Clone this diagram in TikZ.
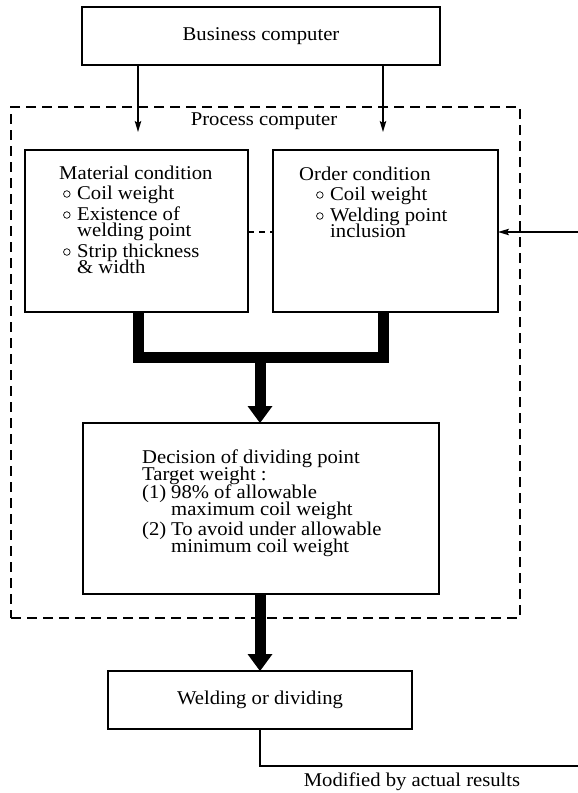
\documentclass[tikz,border=0pt]{standalone}
\usepackage{fontspec}
\setmainfont[FakeStretch=1.06]{Liberation Serif}
\usetikzlibrary{arrows.meta}

\newcommand{\itemdot}{\makebox[14pt][l]{\tikz[x=1cm,y=1cm,baseline=-5pt]\draw[line width=0.7pt] (0,0) circle (3.3pt);}}
\newcommand{\tightlines}{\lineskiplimit-30pt\relax}

\begin{document}
\begin{tikzpicture}[x=1pt,y=-1pt,
    box/.style={draw,line width=1.3pt,inner sep=0pt,outer sep=0pt},
    txt/.style={font=\fontsize{19.5}{16}\selectfont\tightlines,inner sep=0pt,align=left},
    thinarrow/.style={line width=1.3pt,-{Stealth[length=11pt,width=6.5pt,inset=2pt]}},
    thickbar/.style={line width=11pt,line join=miter},
    thickarrow/.style={line width=11pt,-{Triangle[length=17pt,width=25pt,line width=0pt]}}]
  \useasboundingbox (0,0) rectangle (578,793);
  %% Business computer
  \node[box,txt,minimum width=358pt,minimum height=58pt] (biz) at (261,36) {Business computer};
  %% Process computer frame
  \node[draw,line width=1.4pt,dash pattern=on 10pt off 6pt,inner sep=0pt,
        minimum width=509pt,minimum height=511pt] (proc) at (265.5,362.5) {};
  \node[txt,anchor=base] (proctext) at (264,125) {Process computer};
  %% Condition boxes (text nodes anchored at their last line)
  \node[box,minimum width=223pt,minimum height=162pt] (mat) at (136.5,231) {};
  \node[box,minimum width=225pt,minimum height=162pt] (ord) at (385.5,231) {};
  \node[txt,anchor=base west] (mattext) at (59,273)
       {Material condition\\[4pt]
        \hspace*{4pt}\itemdot Coil weight\\[5pt]
        \hspace*{4pt}\itemdot Existence of\\
        \hspace*{18pt}welding point\\[5pt]
        \hspace*{4pt}\itemdot Strip thickness\\
        \hspace*{18pt}\& width};
  \node[txt,anchor=base west] (ordtext) at (299,237)
       {Order condition\\[4pt]
        \hspace*{17pt}\itemdot Coil weight\\[5pt]
        \hspace*{17pt}\itemdot Welding point\\
        \hspace*{31pt}inclusion};
  %% Decision box
  \node[box,minimum width=356pt,minimum height=171pt] (dec) at (261,508.5) {};
  \node[txt,font=\fontsize{19.5}{17}\selectfont\tightlines,anchor=base west] (dectext) at (142,552)
       {Decision of dividing point\\
        Target weight :\\[1pt]
        \makebox[29pt][l]{(1)}98\% of allowable\\
        \hspace*{29pt}maximum coil weight\\[3pt]
        \makebox[29pt][l]{(2)}To avoid under allowable\\
        \hspace*{29pt}minimum coil weight};
  %% Welding or dividing
  \node[box,txt,minimum width=304pt,minimum height=58pt] (weld) at (260,700) {Welding or dividing};
  %% Connectors
  \coordinate (inL) at (138,132);
  \coordinate (inR) at (383,132);
  \coordinate (joint) at (260,357.5);
  \coordinate (fbin) at (578,232);
  \coordinate (fbout) at (578,766);
  \draw[thinarrow] (inL |- biz.south) -- (inL);
  \draw[thinarrow] (inR |- biz.south) -- (inR);
  \draw[thickbar] (inL |- mat.south) |- (joint) -| (inR |- ord.south);
  \draw[thickarrow] (joint) -- (joint |- dec.north);
  \draw[thickarrow] (joint |- dec.south) -- (joint |- weld.north);
  \draw[line width=1.3pt,dash pattern=on 6pt off 5pt] (mat.east |- fbin) -- (ord.west |- fbin);
  \draw[thinarrow] (fbin) -- (fbin -| ord.east);
  \draw[line width=1.3pt] (weld.south) |- (fbout);
  \node[txt,anchor=base] (fbtext) at (412,786) {Modified by actual results};
\end{tikzpicture}
\end{document}
